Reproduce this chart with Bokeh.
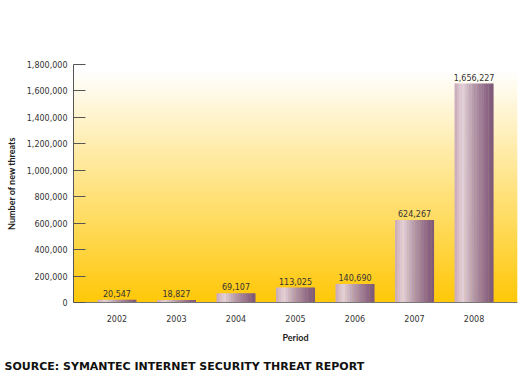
from bokeh.plotting import figure
from bokeh.models import (FactorRange, Range1d, FixedTicker, NumeralTickFormatter,
                          BoxAnnotation, Title, ColumnDataSource)
from bokeh.transform import dodge
from bokeh.core.properties import value
from bokeh.embed import file_html
from bokeh.resources import INLINE

# ---- data ----
periods = ["2002", "2003", "2004", "2005", "2006", "2007", "2008"]
new_threats = [20547, 18827, 69107, 113025, 140690, 624267, 1656227]
y_ticks = [0, 200000, 400000, 600000, 800000, 1000000, 1200000, 1400000, 1600000, 1800000]
y_max = 1800000
x_title = "Period"
y_title = "Number of new threats"
source_text = "SOURCE: SYMANTEC INTERNET SECURITY THREAT REPORT"

bar_labels = ["{:,}".format(v) for v in new_threats]
src = ColumnDataSource(dict(period=periods, count=new_threats, label=bar_labels))

pad = 0.23
p = figure(width=522, height=375,
           x_range=FactorRange(factors=periods, range_padding=pad,
                               range_padding_units="absolute"),
           y_range=Range1d(0, y_max),
           output_backend="svg", toolbar_location=None,
           min_border_left=73, min_border_right=5, min_border_top=64,
           min_border_bottom=73)
p.background_fill_color = "white"
p.border_fill_color = "white"
p.outline_line_color = None
p.xgrid.visible = False
p.ygrid.visible = False

# ---- background vertical gradient (white -> gold) ----
nb = 80
band = y_max / nb
white_top = 1755000.0
for i in range(nb):
    lo = i * band
    hi = (i + 1) * band
    t = min(1.0, ((lo + hi) / 2) / white_top)
    r, g, b = 255, int(200 + 55 * t), int(8 + 247 * t)
    p.add_layout(BoxAnnotation(bottom=lo, top=hi + band * 0.3,
                               fill_color="#%02x%02x%02x" % (r, g, b),
                               fill_alpha=1.0, line_alpha=0, level="underlay"))

# ---- bars with horizontal shading ----
stops = [(0.0, (200, 168, 184)), (0.2, (228, 210, 218)), (0.5, (181, 152, 169)),
         (0.82, (144, 105, 136)), (1.0, (124, 88, 118))]

def shade(f):
    for (f0, c0), (f1, c1) in zip(stops[:-1], stops[1:]):
        if f0 <= f <= f1:
            u = (f - f0) / (f1 - f0)
            return "#%02x%02x%02x" % tuple(int(a + (b - a) * u) for a, b in zip(c0, c1))
    return "#7c5876"

bw = 0.65
ns = 16
sw = bw / ns
for j in range(ns):
    off = -bw / 2 + (j + 0.5) * sw
    p.vbar(x=dodge("period", off, range=p.x_range), top="count", bottom=0,
           width=sw * 1.15, source=src, fill_color=shade((j + 0.5) / ns),
           line_color=None)

p.text(x="period", y="count", text="label", source=src, text_align="center",
       text_baseline="bottom", y_offset=-3, text_font=value("DejaVu Sans"),
       text_font_size="8px", text_color="#333333")

# ---- axes ----
p.yaxis.ticker = FixedTicker(ticks=y_ticks)
p.yaxis.formatter = NumeralTickFormatter(format="0,0")
p.yaxis.major_label_text_font = "DejaVu Sans"
p.yaxis.major_label_text_font_size = "8px"
p.yaxis.major_label_text_color = "#333333"
p.yaxis.major_tick_in = 12
p.yaxis.major_tick_out = 0
p.yaxis.minor_tick_line_color = None
p.yaxis.axis_line_color = "#555555"
p.yaxis.major_tick_line_color = "#555555"
p.yaxis.major_label_standoff = 6
p.yaxis.axis_label = y_title
p.yaxis.axis_label_text_font = "Lato"
p.yaxis.axis_label_text_font_style = "bold"
p.yaxis.axis_label_text_font_size = "9px"
p.yaxis.axis_label_text_color = "#222222"
p.yaxis.axis_label_standoff = 7

p.xaxis.major_tick_in = 0
p.xaxis.major_tick_out = 0
p.xaxis.axis_line_color = "#777777"
p.xaxis.major_label_standoff = 12
p.xaxis.major_label_text_font = "DejaVu Sans"
p.xaxis.major_label_text_font_size = "8px"
p.xaxis.major_label_text_color = "#333333"
p.xaxis.axis_label = x_title
p.xaxis.axis_label_text_font = "Lato"
p.xaxis.axis_label_text_font_style = "bold"
p.xaxis.axis_label_text_font_size = "9px"
p.xaxis.axis_label_text_color = "#222222"
p.xaxis.axis_label_standoff = 7

# spacer, then the source caption below the chart
p.add_layout(Title(text=" ", text_font_size="1px", standoff=11), "below")
p.add_layout(Title(text=source_text, align="left", offset=-69, standoff=0,
                   vertical_align="top",
                   text_font="DejaVu Sans", text_font_style="bold",
                   text_font_size="11px", text_color="#111111"), "below")

open("out.html", "w").write(file_html(p, INLINE))
